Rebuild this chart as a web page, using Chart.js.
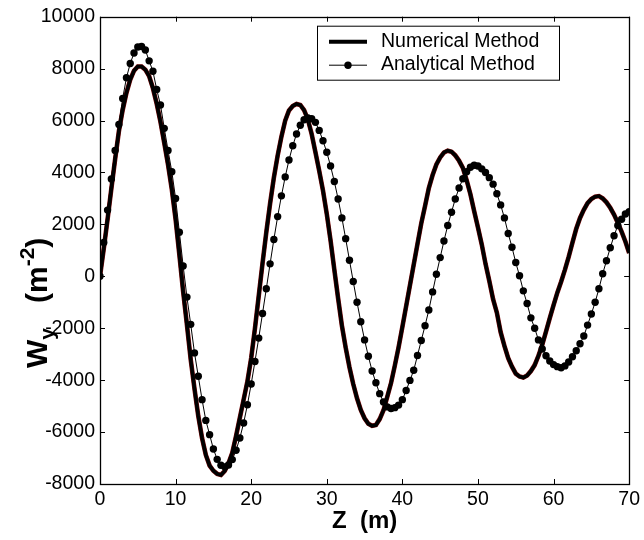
<!DOCTYPE html>
<html>
<head>
<meta charset="utf-8">
<script src="https://cdn.jsdelivr.net/npm/chart.js@4.4.1/dist/chart.umd.min.js"></script>
<style>
  html, body { margin: 0; padding: 0; background: #fff; }
  #wrap { position: relative; width: 644px; height: 540px; }
</style>
</head>
<body>
<div id="wrap"><canvas id="chart" width="644" height="540"></canvas></div>
<script>
// depth along the line, m
var zPoints = [
  0, 0.5, 1, 1.5, 2, 2.5, 3, 3.5, 4, 4.5, 5, 5.5, 6, 6.5, 7, 7.5, 8, 8.5, 9, 9.5,
  10, 10.5, 11, 11.5, 12, 12.5, 13, 13.5, 14, 14.5, 15, 15.5, 16, 16.5, 17, 17.5, 18, 18.5, 19, 19.5,
  20, 20.5, 21, 21.5, 22, 22.5, 23, 23.5, 24, 24.5, 25, 25.5, 26, 26.5, 27, 27.5, 28, 28.5, 29, 29.5,
  30, 30.5, 31, 31.5, 32, 32.5, 33, 33.5, 34, 34.5, 35, 35.5, 36, 36.5, 37, 37.5, 38, 38.5, 39, 39.5,
  40, 40.5, 41, 41.5, 42, 42.5, 43, 43.5, 44, 44.5, 45, 45.5, 46, 46.5, 47, 47.5, 48, 48.5, 49, 49.5,
  50, 50.5, 51, 51.5, 52, 52.5, 53, 53.5, 54, 54.5, 55, 55.5, 56, 56.5, 57, 57.5, 58, 58.5, 59, 59.5,
  60, 60.5, 61, 61.5, 62, 62.5, 63, 63.5, 64, 64.5, 65, 65.5, 66, 66.5, 67, 67.5, 68, 68.5, 69, 69.5,
  70
];

// Numerical Method (thick line)
var numericalW = [
  0, 1070, 2200, 3370, 4510, 5590, 6410, 7070, 7580, 7920, 8080, 8080, 7960, 7710, 7250, 6650, 5950, 5140, 4300, 3350,
  2200, 830, -590, -1870, -3200, -4330, -5380, -6230, -6880, -7290, -7490, -7610, -7650, -7500, -7200, -6800, -6150, -5450, -4750, -4050,
  -3150, -2000, -750, 500, 1700, 2800, 3800, 4650, 5380, 6000, 6390, 6560, 6640, 6600, 6400, 6040, 5480, 4780, 4060, 3300,
  2400, 1380, 250, -850, -1900, -2750, -3500, -4150, -4700, -5150, -5470, -5680, -5760, -5730, -5500, -5160, -4640, -4110, -3440, -2730,
  -1950, -1150, -350, 450, 1250, 2040, 2710, 3400, 3900, 4310, 4580, 4770, 4840, 4800, 4660, 4450, 4180, 3700, 3160, 2510,
  1880, 1230, 480, -180, -880, -1400, -2150, -2680, -3150, -3480, -3750, -3860, -3900, -3820, -3650, -3420, -3060, -2640, -2130, -1610,
  -1110, -630, -210, 250, 750, 1300, 1830, 2250, 2560, 2820, 2980, 3070, 3090, 3000, 2850, 2640, 2380, 2060, 1720, 1340,
  900
];

// Analytical Method (thin line with dots)
var analyticalW = [
  0, 1300, 2550, 3750, 4850, 5850, 6850, 7650, 8200, 8600, 8830, 8850, 8720, 8300, 7900, 7200, 6600, 5700, 4850, 4030,
  3000, 1700, 400, -800, -1850, -2950, -3850, -4750, -5550, -6100, -6650, -7050, -7280, -7340, -7270, -7060, -6700, -6230, -5650, -4950,
  -4150, -3280, -2380, -1430, -480, 480, 1420, 2300, 3100, 3830, 4480, 5030, 5480, 5820, 6030, 6100, 6070, 5930, 5620, 5220,
  4780, 4250, 3650, 2980, 2250, 1450, 620, -200, -1000, -1750, -2450, -3080, -3650, -4100, -4520, -4840, -5030, -5090, -5060, -4960,
  -4750, -4400, -4010, -3620, -3050, -2470, -1900, -1300, -600, 80, 720, 1360, 1960, 2470, 2980, 3400, 3760, 4030, 4200, 4280,
  4250, 4140, 4000, 3800, 3550, 3180, 2750, 2250, 1650, 1120, 530, 20, -560, -1050, -1600, -2000, -2450, -2800, -3060, -3260,
  -3400, -3480, -3520, -3450, -3300, -3100, -2870, -2600, -2300, -1880, -1450, -1000, -480, 100, 600, 1100, 1560, 1960, 2200, 2400,
  2490
];

var xTicks = [0, 10, 20, 30, 40, 50, 60, 70];
var yTicks = [-8000, -6000, -4000, -2000, 0, 2000, 4000, 6000, 8000, 10000];

var seriesNames = ['Numerical Method', 'Analytical Method'];

var fontFamily = '"Liberation Sans", Arial, Helvetica, sans-serif';

function toXY(ys) {
    return zPoints.map(function (z, i) { return { x: z, y: ys[i] }; });
}

// box round the plot and inward ticks on all four sides
var frameTicks = {
    id: 'frameTicks',
    afterDatasetsDraw: function (chart) {
        var ctx = chart.ctx;
        var a = chart.chartArea;
        var sx = chart.scales.x, sy = chart.scales.y;
        var len = 5;
        ctx.save();
        ctx.strokeStyle = '#000';
        ctx.lineWidth = 1;
        ctx.beginPath();
        for (var i = 0; i < xTicks.length; i++) {
            var px = Math.round(sx.getPixelForValue(xTicks[i])) + 0.5;
            ctx.moveTo(px, a.bottom); ctx.lineTo(px, a.bottom - len);
            ctx.moveTo(px, a.top); ctx.lineTo(px, a.top + len);
        }
        for (var j = 0; j < yTicks.length; j++) {
            var py = Math.round(sy.getPixelForValue(yTicks[j])) + 0.5;
            ctx.moveTo(a.left, py); ctx.lineTo(a.left + len, py);
            ctx.moveTo(a.right, py); ctx.lineTo(a.right - len, py);
        }
        ctx.stroke();
        ctx.lineWidth = 1.3;
        ctx.strokeRect(Math.round(a.left) + 0.5, Math.round(a.top) + 0.5,
            Math.round(a.right - a.left), Math.round(a.bottom - a.top));
        ctx.restore();
    }
};

// legend box in the upper right of the plot
var boxLegend = {
    id: 'boxLegend',
    afterDraw: function (chart) {
        var ctx = chart.ctx;
        var a = chart.chartArea;
        var left = a.left + 217, top = a.top + 9, w = 242, h = 54;
        ctx.save();
        ctx.fillStyle = '#fff';
        ctx.fillRect(left, top, w, h);
        ctx.strokeStyle = '#000';
        ctx.lineWidth = 1;
        ctx.strokeRect(left + 0.5, top + 0.5, w, h);

        var y1 = top + 16, y2 = top + 39;
        ctx.beginPath();
        ctx.lineWidth = 4;
        ctx.moveTo(left + 12, y1); ctx.lineTo(left + 50, y1);
        ctx.stroke();
        ctx.beginPath();
        ctx.lineWidth = 1;
        ctx.moveTo(left + 12, y2 + 0.5); ctx.lineTo(left + 50, y2 + 0.5);
        ctx.stroke();
        ctx.beginPath();
        ctx.fillStyle = '#000';
        ctx.arc(left + 31, y2 + 0.5, 3.7, 0, Math.PI * 2);
        ctx.fill();

        ctx.font = '19.5px ' + fontFamily;
        ctx.textBaseline = 'middle';
        ctx.textAlign = 'left';
        ctx.fillText(seriesNames[0], left + 64, y1);
        ctx.fillText(seriesNames[1], left + 64, y2);
        ctx.restore();
    }
};

// y axis title with subscript and superscript
var yTitle = {
    id: 'yTitle',
    afterDraw: function (chart) {
        var ctx = chart.ctx;
        var parts = [
            { t: 'W', size: 30, dy: 0 },
            { t: 'y', size: 21, dy: 7 },
            { t: '   (m', size: 30, dy: 0 },
            { t: '-2', size: 21, dy: -13 },
            { t: ')', size: 30, dy: 0 }
        ];
        ctx.save();
        ctx.translate(47, 368);
        ctx.rotate(-Math.PI / 2);
        ctx.fillStyle = '#000';
        ctx.textBaseline = 'alphabetic';
        ctx.textAlign = 'left';
        var x = 0;
        for (var i = 0; i < parts.length; i++) {
            ctx.font = 'bold ' + parts[i].size + 'px ' + fontFamily;
            ctx.fillText(parts[i].t, x, parts[i].dy);
            x += ctx.measureText(parts[i].t).width;
        }
        ctx.restore();
    }
};

var ctx = document.getElementById('chart');

var data = {
    datasets: [
        {
            label: seriesNames[1],
            data: toXY(analyticalW),
            borderColor: '#000',
            backgroundColor: '#000',
            borderWidth: 1,
            pointRadius: 3.7,
            pointBorderWidth: 0,
            pointBackgroundColor: '#000',
            tension: 0,
            order: 1
        },
        {
            label: seriesNames[0],
            data: toXY(numericalW),
            borderColor: '#000',
            borderWidth: 3.6,
            pointRadius: 0,
            tension: 0,
            order: 2
        },
        {
            label: 'edge',
            data: toXY(numericalW),
            borderColor: '#7a0a0a',
            borderWidth: 4.6,
            pointRadius: 0,
            tension: 0,
            order: 3
        }
    ]
};

var options = {
    responsive: false,
    animation: false,
    layout: { padding: { top: 15, right: 12, left: 0, bottom: 0 } },
    plugins: {
        legend: { display: false },
        tooltip: { enabled: false }
    },
    scales: {
        x: {
            type: 'linear',
            min: 0,
            max: 70,
            afterBuildTicks: function (scale) {
                scale.ticks = xTicks.map(function (v) { return { value: v }; });
            },
            afterFit: function (scale) { scale.height = 56; },
            grid: { display: false, drawTicks: false, tickLength: 0 },
            border: { display: false },
            ticks: {
                color: '#000',
                padding: 4,
                maxRotation: 0,
                font: { family: fontFamily, size: 19.5 },
                callback: function (v) { return String(v); }
            },
            title: {
                display: true,
                text: 'Z  (m)',
                color: '#000',
                font: { family: fontFamily, size: 24, weight: 'bold' },
                padding: { top: 0, bottom: 4 }
            }
        },
        y: {
            type: 'linear',
            min: -8000,
            max: 10000,
            afterBuildTicks: function (scale) {
                scale.ticks = yTicks.map(function (v) { return { value: v }; });
            },
            afterFit: function (scale) { scale.width = 100; },
            grid: { display: false, drawTicks: false, tickLength: 0 },
            border: { display: false },
            ticks: {
                color: '#000',
                padding: 5,
                font: { family: fontFamily, size: 19.5 },
                callback: function (v) { return String(v); }
            }
        }
    }
};

new Chart(ctx, {
    type: 'line',
    data: data,
    options: options,
    plugins: [frameTicks, boxLegend, yTitle]
});
</script>
</body>
</html>
